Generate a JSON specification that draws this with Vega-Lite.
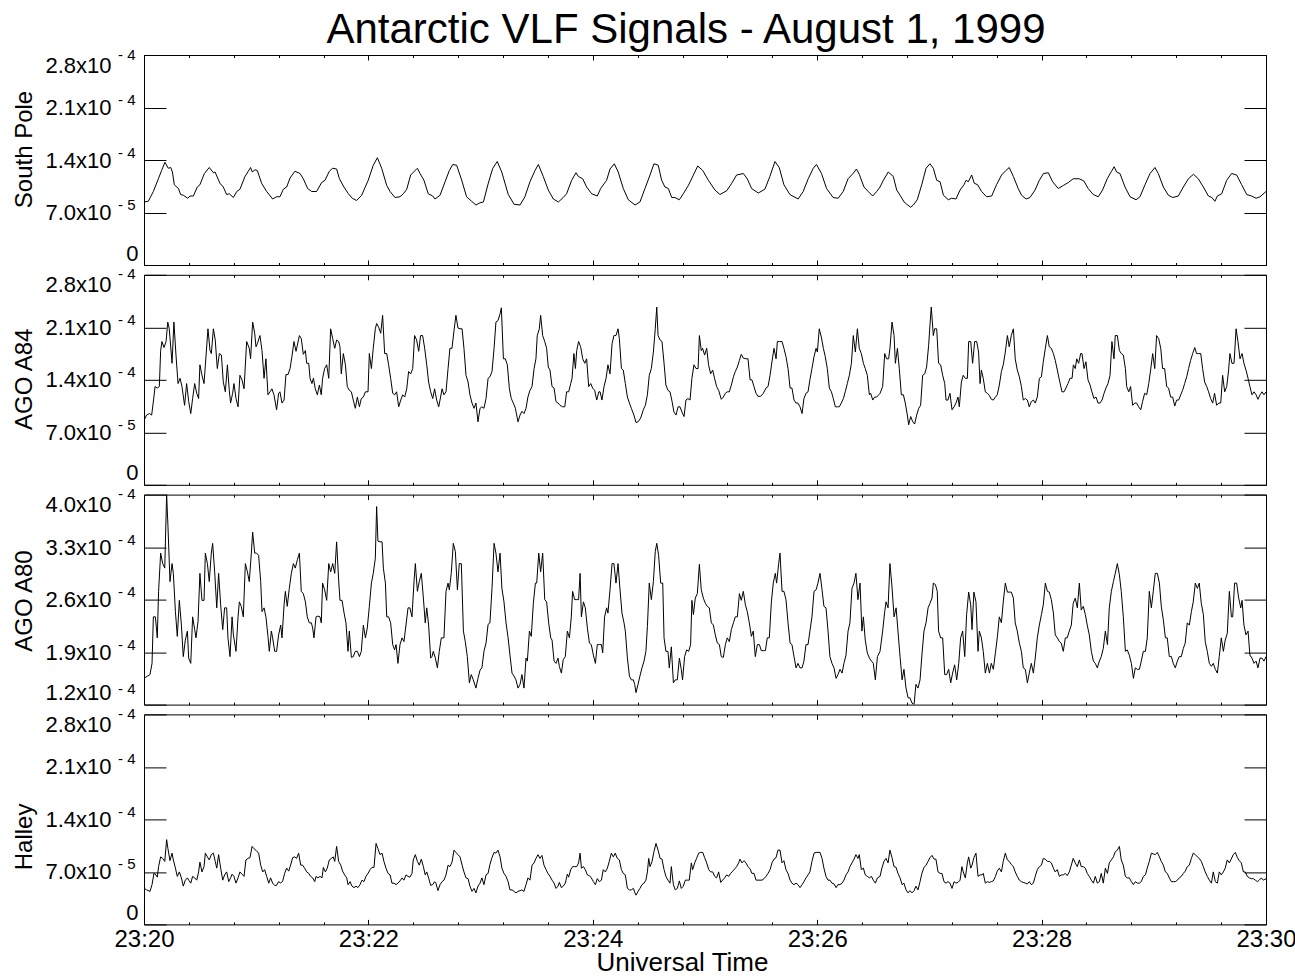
{
"$schema": "https://vega.github.io/schema/vega-lite/v6.json",
"background": "white",
"padding": {"left": 11, "top": 8, "right": 5, "bottom": 0},
"title": {"text": "Antarctic VLF Signals - August 1, 1999", "fontSize": 42, "font": "Liberation Sans", "fontWeight": "normal", "color": "black", "anchor": "middle", "frame": "group", "baseline": "alphabetic", "offset": -38, "dx": -19},
"bounds": "flush",
"spacing": 9.8,
"config": {
  "view": {"stroke": "black", "strokeWidth": 1},
  "axis": {"grid": false, "domain": false, "tickColor": "black", "tickWidth": 1, "labelColor": "black", "labelFont": "Liberation Sans", "titleFont": "Liberation Sans", "titleColor": "black", "titleFontWeight": "normal"}
},
"datasets": {
"sp": [
{"t":0,"v":8.4},{"t":2.3,"v":8.5},{"t":5.0,"v":9.8},{"t":7.7,"v":11.5},{"t":9.4,"v":12.6},{"t":11.2,"v":13.7},{"t":13.0,"v":12.9},{"t":14.3,"v":13.0},{"t":15.2,"v":12.4},{"t":16.2,"v":10.7},{"t":18.4,"v":10.2},{"t":19.6,"v":9.4},{"t":21.0,"v":9.3},{"t":23.4,"v":8.9},{"t":24.6,"v":9.2},{"t":26.4,"v":9.2},{"t":28.5,"v":10.4},{"t":29.9,"v":10.7},{"t":32.3,"v":12.2},{"t":34.9,"v":13.0},{"t":37.1,"v":12.3},{"t":38.0,"v":12.4},{"t":40.6,"v":10.9},{"t":42.4,"v":10.4},{"t":44.2,"v":9.4},{"t":45.6,"v":9.5},{"t":47.8,"v":9.0},{"t":49.6,"v":9.8},{"t":51.3,"v":10.1},{"t":54.0,"v":11.8},{"t":57.0,"v":13.0},{"t":57.9,"v":12.4},{"t":59.4,"v":12.7},{"t":60.6,"v":12.6},{"t":62.9,"v":10.9},{"t":65.6,"v":9.8},{"t":68.8,"v":8.8},{"t":70.9,"v":9.1},{"t":72.7,"v":9.1},{"t":74.5,"v":10.1},{"t":76.3,"v":10.4},{"t":78.1,"v":11.6},{"t":80.7,"v":12.5},{"t":83.4,"v":12.2},{"t":85.2,"v":11.5},{"t":87.5,"v":10.2},{"t":89.7,"v":9.8},{"t":92.3,"v":9.8},{"t":95.0,"v":11.0},{"t":96.8,"v":11.3},{"t":99.1,"v":12.5},{"t":100.9,"v":12.9},{"t":103.0,"v":12.8},{"t":104.5,"v":11.5},{"t":106.9,"v":10.4},{"t":109.3,"v":9.5},{"t":111.4,"v":8.9},{"t":113.7,"v":8.6},{"t":116.4,"v":9.3},{"t":119.9,"v":11.3},{"t":122.6,"v":13.3},{"t":124.8,"v":14.3},{"t":127.1,"v":12.9},{"t":129.8,"v":10.6},{"t":131.6,"v":9.8},{"t":134.2,"v":9.0},{"t":136.9,"v":9.1},{"t":138.7,"v":9.5},{"t":140.5,"v":10.1},{"t":142.6,"v":12.0},{"t":146.2,"v":12.9},{"t":147.6,"v":12.2},{"t":149.7,"v":11.3},{"t":152.0,"v":9.5},{"t":154.4,"v":9.2},{"t":155.6,"v":8.8},{"t":158.3,"v":9.3},{"t":161.0,"v":11.1},{"t":163.3,"v":12.6},{"t":165.1,"v":13.4},{"t":167.2,"v":13.3},{"t":169.9,"v":11.3},{"t":172.5,"v":9.1},{"t":175.2,"v":8.5},{"t":177.5,"v":8.0},{"t":179.7,"v":8.3},{"t":181.5,"v":8.4},{"t":184.1,"v":10.9},{"t":186.5,"v":12.9},{"t":188.9,"v":13.8},{"t":191.3,"v":12.4},{"t":194.8,"v":9.4},{"t":197.9,"v":8.1},{"t":201.1,"v":8.0},
{"t":203.7,"v":9.1},{"t":206.4,"v":11.1},{"t":209.1,"v":12.6},{"t":210.9,"v":13.4},{"t":213.5,"v":11.8},{"t":216.2,"v":10.0},{"t":218.9,"v":8.8},{"t":221.6,"v":8.4},{"t":224.2,"v":9.0},{"t":226.0,"v":9.5},{"t":228.7,"v":11.3},{"t":231.0,"v":12.3},{"t":232.3,"v":11.8},{"t":234.6,"v":11.5},{"t":236.7,"v":10.4},{"t":239.4,"v":9.5},{"t":242.4,"v":9.2},{"t":244.2,"v":10.2},{"t":247.4,"v":11.3},{"t":249.2,"v":12.8},{"t":251.5,"v":13.5},{"t":253.6,"v":12.4},{"t":256.3,"v":10.2},{"t":259.0,"v":8.7},{"t":262.6,"v":8.0},{"t":265.2,"v":8.4},{"t":267.9,"v":10.2},{"t":270.6,"v":12.0},{"t":272.7,"v":13.5},{"t":275.0,"v":13.3},{"t":276.8,"v":11.3},{"t":278.6,"v":10.4},{"t":280.4,"v":10.2},{"t":282.2,"v":9.0},{"t":283.9,"v":9.0},{"t":286.3,"v":8.7},{"t":288.4,"v":9.5},{"t":291.1,"v":10.6},{"t":293.8,"v":12.0},{"t":296.1,"v":13.2},{"t":298.8,"v":12.6},{"t":301.8,"v":11.3},{"t":305.3,"v":10.0},{"t":308.0,"v":9.4},{"t":311.6,"v":9.9},{"t":314.3,"v":10.9},{"t":316.9,"v":12.0},{"t":320.5,"v":12.2},{"t":322.6,"v":11.5},{"t":324.9,"v":10.2},{"t":328.5,"v":9.6},{"t":332.0,"v":10.1},{"t":334.7,"v":11.8},{"t":337.4,"v":13.8},{"t":339.7,"v":13.0},{"t":342.2,"v":10.7},{"t":345.4,"v":9.4},{"t":349.8,"v":8.8},{"t":352.5,"v":9.8},{"t":355.2,"v":11.5},{"t":357.9,"v":12.9},{"t":359.6,"v":13.4},{"t":362.3,"v":12.2},{"t":365.0,"v":10.2},{"t":368.5,"v":9.0},{"t":371.2,"v":8.9},{"t":373.9,"v":9.8},{"t":376.5,"v":11.5},{"t":379.2,"v":12.2},{"t":381.0,"v":12.8},{"t":382.5,"v":12.1},{"t":385.0,"v":10.4},{"t":387.3,"v":9.8},{"t":389.7,"v":9.2},{"t":391.8,"v":9.8},
{"t":393.6,"v":10.4},{"t":395.4,"v":11.3},{"t":398.0,"v":12.4},{"t":400.7,"v":11.8},{"t":402.5,"v":10.0},{"t":404.3,"v":9.3},{"t":406.5,"v":8.4},{"t":407.9,"v":8.1},{"t":410.0,"v":7.7},{"t":411.4,"v":8.0},{"t":413.5,"v":8.7},{"t":415.9,"v":10.7},{"t":418.2,"v":12.9},{"t":420.3,"v":13.5},{"t":422.1,"v":12.9},{"t":423.9,"v":11.3},{"t":425.7,"v":11.1},{"t":427.5,"v":9.3},{"t":430.1,"v":8.7},{"t":431.9,"v":8.9},{"t":434.2,"v":8.8},{"t":436.4,"v":10.0},{"t":438.5,"v":10.7},{"t":439.6,"v":11.3},{"t":440.8,"v":11.1},{"t":442.6,"v":12.0},{"t":444.0,"v":10.9},{"t":445.8,"v":10.7},{"t":447.9,"v":9.8},{"t":450.6,"v":9.1},{"t":453.3,"v":9.2},{"t":455.9,"v":10.7},{"t":458.6,"v":12.0},{"t":460.9,"v":12.6},{"t":462.7,"v":13.0},{"t":464.9,"v":11.8},{"t":467.5,"v":10.2},{"t":469.3,"v":9.3},{"t":471.7,"v":8.8},{"t":473.8,"v":9.0},{"t":476.5,"v":10.0},{"t":478.8,"v":11.3},{"t":481.0,"v":12.2},{"t":483.6,"v":12.3},{"t":485.9,"v":11.1},{"t":488.9,"v":10.2},{"t":491.6,"v":10.6},{"t":494.3,"v":11.0},{"t":496.9,"v":11.5},{"t":500.1,"v":11.5},{"t":502.6,"v":11.2},{"t":504.9,"v":10.2},{"t":507.6,"v":9.4},{"t":510.3,"v":9.1},{"t":512.6,"v":10.0},{"t":515.1,"v":11.5},{"t":517.4,"v":12.5},{"t":518.8,"v":13.1},{"t":520.1,"v":12.4},{"t":521.9,"v":12.2},{"t":524.6,"v":10.4},{"t":527.3,"v":9.1},{"t":530.5,"v":8.7},{"t":532.6,"v":9.1},{"t":535.3,"v":10.7},{"t":538.0,"v":12.2},{"t":540.6,"v":13.0},{"t":542.4,"v":12.2},{"t":545.1,"v":10.4},{"t":547.8,"v":9.3},{"t":550.1,"v":9.0},{"t":553.1,"v":9.2},{"t":555.8,"v":10.4},{"t":558.5,"v":11.5},{"t":561.2,"v":12.1},{"t":563.8,"v":11.5},{"t":566.5,"v":10.4},{"t":569.2,"v":9.2},{"t":571.0,"v":9.0},{"t":572.7,"v":8.5},{"t":574.0,"v":9.2},{"t":576.3,"v":9.5},{"t":579.0,"v":11.3},{"t":581.6,"v":12.2},{"t":584.3,"v":12.0},{"t":587.0,"v":10.7},{"t":589.7,"v":9.4},{"t":592.3,"v":9.2},{"t":594.7,"v":8.9},{"t":596.8,"v":9.1},{"t":600,"v":9.8}
],
"a84": [
{"t":0,"v":8.6},{"t":1.4,"v":9.3},{"t":2.9,"v":9.5},{"t":4.1,"v":9.3},{"t":5.3,"v":11.7},{"t":5.9,"v":13.1},{"t":7.1,"v":12.9},{"t":8.2,"v":13.1},{"t":8.9,"v":17.9},{"t":9.6,"v":19.1},{"t":10.7,"v":18.3},{"t":11.8,"v":19.1},{"t":12.7,"v":21.7},{"t":13.5,"v":20.8},{"t":15.0,"v":16.2},{"t":16.0,"v":21.7},{"t":17.1,"v":17.3},{"t":18.2,"v":13.5},{"t":19.3,"v":14.2},{"t":20.3,"v":13.1},{"t":21.7,"v":10.6},{"t":22.8,"v":13.5},{"t":23.9,"v":11.1},{"t":25.0,"v":9.5},{"t":26.0,"v":11.5},{"t":27.1,"v":13.5},{"t":28.2,"v":12.2},{"t":29.2,"v":11.5},{"t":29.9,"v":16.0},{"t":31.0,"v":14.6},{"t":32.1,"v":13.5},{"t":33.2,"v":17.3},{"t":34.2,"v":20.8},{"t":35.3,"v":17.9},{"t":36.0,"v":17.5},{"t":37.1,"v":20.8},{"t":38.1,"v":19.3},{"t":39.2,"v":15.5},{"t":40.3,"v":17.5},{"t":41.4,"v":17.3},{"t":42.4,"v":13.7},{"t":43.5,"v":12.4},{"t":44.6,"v":16.0},{"t":45.6,"v":12.6},{"t":46.3,"v":10.9},{"t":47.4,"v":12.2},{"t":48.1,"v":13.5},{"t":49.2,"v":11.5},{"t":50.3,"v":10.4},{"t":51.3,"v":14.6},{"t":52.4,"v":14.0},{"t":53.5,"v":12.8},{"t":54.9,"v":19.1},{"t":56.3,"v":18.2},{"t":57.0,"v":16.8},{"t":58.1,"v":21.7},{"t":59.2,"v":20.2},{"t":59.9,"v":18.4},{"t":60.6,"v":18.8},{"t":62.0,"v":19.9},{"t":63.1,"v":17.9},{"t":64.2,"v":14.2},{"t":65.2,"v":16.8},{"t":66.3,"v":12.0},{"t":67.4,"v":12.4},{"t":68.4,"v":12.8},{"t":69.5,"v":12.0},{"t":70.9,"v":10.0},{"t":72.0,"v":12.2},{"t":72.7,"v":12.4},{"t":73.8,"v":10.9},{"t":74.9,"v":11.3},{"t":75.9,"v":14.7},{"t":77.0,"v":14.7},{"t":78.1,"v":15.5},{"t":79.1,"v":17.1},{"t":80.2,"v":19.1},{"t":81.3,"v":17.8},{"t":82.0,"v":18.6},{"t":83.1,"v":19.9},{"t":84.1,"v":19.5},{"t":85.2,"v":17.4},{"t":86.3,"v":17.9},{"t":87.0,"v":16.2},{"t":88.1,"v":16.2},{"t":88.8,"v":14.2},{"t":89.8,"v":13.5},{"t":90.6,"v":14.2},{"t":91.6,"v":12.8},{"t":92.7,"v":12.0},{"t":93.8,"v":13.3},{"t":94.8,"v":12.0},{"t":95.5,"v":14.2},{"t":96.6,"v":15.5},{"t":97.7,"v":16.0},{"t":98.8,"v":14.2},{"t":99.8,"v":20.8},{"t":100.9,"v":19.5},{"t":102.0,"v":18.2},{"t":103.0,"v":19.3},{"t":104.1,"v":19.1},{"t":104.8,"v":18.4},{"t":105.5,"v":14.8},{"t":106.6,"v":17.5},{"t":107.7,"v":16.0},{"t":108.7,"v":13.1},{"t":109.8,"v":12.6},{"t":110.9,"v":12.4},{"t":111.9,"v":11.3},{"t":113.0,"v":10.2},{"t":114.1,"v":11.7},{"t":115.2,"v":10.4},{"t":116.2,"v":11.5},{"t":117.3,"v":11.7},{"t":118.4,"v":12.4},{"t":119.8,"v":12.4},{"t":120.5,"v":17.5},{"t":121.6,"v":15.5},{"t":122.6,"v":18.2},{"t":123.7,"v":20.8},{"t":124.4,"v":21.5},{"t":125.5,"v":21.0},{"t":126.6,"v":20.2},{"t":127.6,"v":22.6},{"t":128.7,"v":17.5},{"t":129.8,"v":17.5},{"t":130.8,"v":16.0},{"t":131.9,"v":14.2},{"t":133.0,"v":12.2},{"t":134.0,"v":12.0},{"t":135.1,"v":12.4},{"t":136.2,"v":10.4},{"t":137.3,"v":11.3},{"t":138.3,"v":12.0},{"t":139.4,"v":11.7},{"t":140.5,"v":12.8},{"t":141.5,"v":15.1},{"t":142.6,"v":14.8},{"t":143.7,"v":15.5},{"t":144.7,"v":19.9},{"t":145.8,"v":19.3},{"t":146.9,"v":17.8},{"t":147.9,"v":19.9},{"t":149.0,"v":19.9},{"t":150.1,"v":18.2},{"t":151.2,"v":16.0},{"t":152.2,"v":13.7},{"t":153.3,"v":12.4},{"t":154.4,"v":11.5},{"t":155.4,"v":12.8},{"t":156.5,"v":11.3},{"t":157.6,"v":10.4},{"t":158.6,"v":11.7},{"t":159.4,"v":12.8},{"t":160.4,"v":12.0},{"t":161.5,"v":12.4},{"t":162.6,"v":15.5},{"t":163.6,"v":18.2},{"t":164.7,"v":18.2},{"t":165.8,"v":20.6},{"t":166.8,"v":22.6},{"t":167.9,"v":20.9},{"t":169.0,"v":20.8},{"t":170.1,"v":20.8},{"t":171.1,"v":18.2},{"t":172.2,"v":14.6},{"t":173.3,"v":13.7},{"t":174.3,"v":12.0},{"t":175.4,"v":10.9},{"t":176.5,"v":10.2},{"t":177.5,"v":10.9},{"t":178.6,"v":8.4},{"t":179.7,"v":10.2},{"t":180.7,"v":10.4},{"t":181.8,"v":10.2},{"t":182.9,"v":11.5},{"t":184.0,"v":14.2},{"t":185.0,"v":14.4},{"t":186.1,"v":15.1},{"t":187.2,"v":18.2},{"t":188.2,"v":21.7},{"t":189.3,"v":21.9},{"t":190.4,"v":22.8},{"t":191.1,"v":23.6},{"t":192.2,"v":16.8},{"t":193.2,"v":16.8},{"t":194.3,"v":16.0},{"t":195.4,"v":12.8},{"t":196.4,"v":11.5},{"t":197.5,"v":10.9},{"t":198.6,"v":10.2},{"t":200.0,"v":8.4},{"t":201.1,"v":9.3},
{"t":202.1,"v":9.8},{"t":203.2,"v":9.5},{"t":204.3,"v":10.2},{"t":205.3,"v":11.7},{"t":206.4,"v":12.6},{"t":207.5,"v":13.1},{"t":208.6,"v":15.5},{"t":209.6,"v":16.8},{"t":210.3,"v":19.9},{"t":211.4,"v":20.8},{"t":212.1,"v":22.6},{"t":213.2,"v":19.9},{"t":214.3,"v":19.1},{"t":215.3,"v":18.2},{"t":216.2,"v":15.7},{"t":217.1,"v":15.3},{"t":218.2,"v":13.1},{"t":219.3,"v":12.9},{"t":220.3,"v":11.1},{"t":221.4,"v":10.9},{"t":222.5,"v":10.6},{"t":223.9,"v":10.4},{"t":225.0,"v":10.4},{"t":226.0,"v":12.4},{"t":227.1,"v":12.4},{"t":228.2,"v":13.5},{"t":228.9,"v":14.2},{"t":229.9,"v":17.5},{"t":230.7,"v":15.5},{"t":231.4,"v":17.9},{"t":232.4,"v":19.1},{"t":233.5,"v":18.4},{"t":234.6,"v":16.8},{"t":235.7,"v":16.2},{"t":236.7,"v":16.8},{"t":237.8,"v":13.1},{"t":238.9,"v":13.5},{"t":239.9,"v":12.9},{"t":241.0,"v":12.6},{"t":242.1,"v":11.3},{"t":243.2,"v":12.4},{"t":243.9,"v":12.4},{"t":244.9,"v":11.3},{"t":246.0,"v":13.1},{"t":247.1,"v":14.2},{"t":248.1,"v":16.0},{"t":249.2,"v":14.8},{"t":250.3,"v":18.8},{"t":251.3,"v":19.9},{"t":252.4,"v":19.9},{"t":253.5,"v":20.8},{"t":254.2,"v":19.5},{"t":255.3,"v":15.5},{"t":256.3,"v":15.3},{"t":257.4,"v":13.5},{"t":258.5,"v":11.7},{"t":259.6,"v":10.9},{"t":260.6,"v":10.2},{"t":262.0,"v":9.3},{"t":263.1,"v":8.3},{"t":264.2,"v":8.4},{"t":265.6,"v":8.9},{"t":267.0,"v":10.0},{"t":268.1,"v":10.6},{"t":269.2,"v":12.0},{"t":270.2,"v":14.6},{"t":271.3,"v":15.5},{"t":272.4,"v":17.7},{"t":273.4,"v":20.8},{"t":274.2,"v":23.7},{"t":274.9,"v":19.9},{"t":276.0,"v":19.3},{"t":277.0,"v":19.1},{"t":278.1,"v":16.2},{"t":279.1,"v":13.3},{"t":280.2,"v":12.6},{"t":281.3,"v":12.4},{"t":282.4,"v":11.1},{"t":283.4,"v":9.7},{"t":284.5,"v":9.3},{"t":285.6,"v":10.4},{"t":286.6,"v":10.4},{"t":287.7,"v":9.7},{"t":288.8,"v":9.1},{"t":289.8,"v":11.3},{"t":290.9,"v":11.5},{"t":292.0,"v":11.3},{"t":293.0,"v":14.2},{"t":294.1,"v":16.0},{"t":295.2,"v":15.5},{"t":296.3,"v":15.5},{"t":297.0,"v":19.9},{"t":298.0,"v":17.9},{"t":298.7,"v":18.2},{"t":299.8,"v":17.3},{"t":300.9,"v":18.2},{"t":301.9,"v":16.0},{"t":303.0,"v":14.8},{"t":304.1,"v":15.3},{"t":305.1,"v":14.2},{"t":306.2,"v":13.1},{"t":307.3,"v":12.6},{"t":308.7,"v":11.4},{"t":309.8,"v":11.7},{"t":310.9,"v":12.2},{"t":311.9,"v":12.4},{"t":313.0,"v":12.4},{"t":314.1,"v":13.3},{"t":315.2,"v":14.4},{"t":316.2,"v":15.1},{"t":317.3,"v":15.7},{"t":318.4,"v":16.6},{"t":319.4,"v":17.4},{"t":320.5,"v":16.9},{"t":321.9,"v":16.8},{"t":323.0,"v":16.8},{"t":324.1,"v":14.0},{"t":325.1,"v":14.0},{"t":326.2,"v":13.1},{"t":327.3,"v":12.2},{"t":328.3,"v":11.8},{"t":329.8,"v":11.8},{"t":331.2,"v":12.2},{"t":332.6,"v":12.9},{"t":333.7,"v":13.1},{"t":334.8,"v":14.6},{"t":335.8,"v":16.4},{"t":336.9,"v":18.2},{"t":338.0,"v":16.8},{"t":338.7,"v":19.1},{"t":339.8,"v":19.1},{"t":341.2,"v":19.1},{"t":342.2,"v":18.2},{"t":343.3,"v":17.1},{"t":344.4,"v":15.5},{"t":345.5,"v":12.9},{"t":346.5,"v":12.9},{"t":347.6,"v":11.3},{"t":348.7,"v":10.9},{"t":349.7,"v":10.9},{"t":350.8,"v":10.4},{"t":351.9,"v":9.5},{"t":352.9,"v":11.5},{"t":354.0,"v":12.2},{"t":355.1,"v":12.4},{"t":356.1,"v":14.0},{"t":357.2,"v":15.5},{"t":358.3,"v":17.1},{"t":359.4,"v":18.2},{"t":360.1,"v":17.7},{"t":361.1,"v":20.8},{"t":362.2,"v":19.7},{"t":363.3,"v":18.2},{"t":364.3,"v":17.1},{"t":365.4,"v":15.5},{"t":366.5,"v":12.9},{"t":367.6,"v":12.4},{"t":368.6,"v":11.5},{"t":369.7,"v":10.4},{"t":370.8,"v":10.4},{"t":371.8,"v":10.4},{"t":372.9,"v":10.9},{"t":374.0,"v":11.5},{"t":375.0,"v":12.4},{"t":376.1,"v":13.5},{"t":377.2,"v":14.6},{"t":378.3,"v":16.2},{"t":379.3,"v":19.9},{"t":380.4,"v":17.7},{"t":381.5,"v":20.8},{"t":382.5,"v":18.2},{"t":383.6,"v":17.5},{"t":384.7,"v":16.2},{"t":385.7,"v":15.5},{"t":386.8,"v":14.6},{"t":387.9,"v":12.0},{"t":388.6,"v":12.2},{"t":389.7,"v":11.3},{"t":390.7,"v":11.7},{"t":391.8,"v":11.7},{"t":392.9,"v":12.0},
{"t":393.6,"v":12.2},{"t":395.0,"v":13.1},{"t":396.1,"v":17.5},{"t":397.1,"v":16.8},{"t":398.2,"v":16.8},{"t":398.9,"v":18.2},{"t":400.0,"v":21.7},{"t":401.1,"v":19.9},{"t":401.8,"v":16.2},{"t":402.9,"v":18.2},{"t":403.9,"v":15.5},{"t":405.0,"v":12.0},{"t":406.1,"v":12.0},{"t":407.1,"v":10.9},{"t":408.2,"v":9.3},{"t":408.9,"v":8.0},{"t":410.0,"v":9.1},{"t":411.1,"v":8.4},{"t":412.1,"v":8.1},{"t":413.2,"v":9.3},{"t":414.3,"v":10.2},{"t":415.3,"v":10.6},{"t":416.4,"v":14.6},{"t":417.5,"v":14.8},{"t":418.5,"v":15.7},{"t":419.6,"v":18.6},{"t":420.3,"v":21.3},{"t":421.0,"v":23.7},{"t":422.1,"v":19.9},{"t":422.8,"v":20.8},{"t":423.9,"v":20.8},{"t":424.9,"v":16.2},{"t":426.0,"v":16.0},{"t":427.1,"v":14.6},{"t":428.2,"v":13.5},{"t":428.9,"v":11.3},{"t":429.9,"v":11.3},{"t":431.0,"v":12.2},{"t":432.1,"v":10.0},{"t":433.2,"v":10.4},{"t":434.2,"v":10.9},{"t":435.3,"v":11.7},{"t":436.0,"v":10.4},{"t":437.1,"v":13.7},{"t":438.1,"v":14.6},{"t":439.2,"v":14.2},{"t":440.3,"v":14.2},{"t":441.0,"v":19.1},{"t":442.1,"v":19.1},{"t":443.1,"v":16.2},{"t":444.2,"v":19.1},{"t":445.3,"v":19.1},{"t":446.3,"v":17.7},{"t":447.1,"v":13.5},{"t":447.8,"v":15.3},{"t":448.8,"v":14.2},{"t":449.9,"v":12.4},{"t":451.0,"v":12.2},{"t":452.1,"v":11.9},{"t":453.1,"v":11.4},{"t":454.2,"v":11.3},{"t":455.3,"v":11.7},{"t":456.3,"v":12.0},{"t":457.4,"v":13.3},{"t":458.5,"v":15.1},{"t":459.5,"v":16.0},{"t":460.6,"v":17.7},{"t":461.7,"v":19.9},{"t":462.7,"v":18.4},{"t":463.8,"v":19.9},{"t":464.9,"v":20.8},{"t":465.9,"v":16.8},{"t":467.0,"v":15.3},{"t":468.1,"v":14.4},{"t":469.2,"v":13.1},{"t":470.2,"v":11.3},{"t":471.3,"v":11.5},{"t":472.4,"v":11.3},{"t":473.4,"v":10.4},{"t":474.5,"v":11.1},{"t":475.6,"v":11.3},{"t":476.6,"v":10.9},{"t":477.7,"v":11.7},{"t":478.8,"v":14.2},{"t":479.9,"v":14.4},{"t":480.9,"v":16.4},{"t":482.0,"v":18.2},{"t":483.1,"v":19.9},{"t":484.1,"v":18.4},{"t":485.2,"v":18.2},{"t":486.3,"v":17.5},{"t":487.3,"v":16.6},{"t":488.4,"v":15.3},{"t":489.5,"v":14.0},{"t":490.9,"v":12.4},{"t":492.0,"v":12.4},{"t":493.0,"v":12.9},{"t":494.1,"v":13.5},{"t":495.2,"v":14.2},{"t":496.3,"v":14.2},{"t":497.0,"v":16.0},{"t":498.0,"v":15.5},{"t":498.8,"v":16.8},{"t":499.8,"v":16.2},{"t":500.9,"v":17.5},{"t":501.6,"v":17.5},{"t":502.7,"v":15.5},{"t":503.7,"v":16.4},{"t":504.8,"v":14.0},{"t":505.9,"v":13.3},{"t":506.9,"v":12.4},{"t":508.0,"v":11.5},{"t":509.1,"v":11.7},{"t":510.2,"v":10.9},{"t":511.2,"v":10.9},{"t":512.3,"v":11.3},{"t":513.4,"v":12.2},{"t":514.4,"v":12.9},{"t":515.5,"v":13.5},{"t":516.6,"v":14.6},{"t":517.6,"v":19.1},{"t":518.7,"v":16.8},{"t":519.4,"v":19.9},{"t":520.5,"v":19.9},{"t":521.6,"v":17.9},{"t":522.6,"v":17.5},{"t":523.7,"v":17.3},{"t":524.8,"v":15.5},{"t":525.5,"v":13.1},{"t":526.6,"v":12.4},{"t":527.6,"v":13.1},{"t":528.7,"v":10.6},{"t":529.8,"v":10.9},{"t":530.8,"v":10.9},{"t":531.9,"v":10.4},{"t":533.0,"v":10.0},{"t":534.0,"v":11.1},{"t":535.1,"v":12.2},{"t":536.2,"v":12.0},{"t":537.3,"v":13.5},{"t":538.3,"v":15.3},{"t":539.4,"v":17.5},{"t":540.5,"v":15.5},{"t":541.5,"v":19.9},{"t":542.6,"v":19.5},{"t":543.7,"v":18.2},{"t":544.7,"v":15.5},{"t":545.8,"v":15.5},{"t":546.9,"v":13.1},{"t":547.9,"v":12.9},{"t":549.0,"v":11.7},{"t":550.1,"v":11.7},{"t":551.2,"v":10.5},{"t":552.2,"v":11.3},{"t":553.3,"v":11.3},{"t":554.4,"v":12.0},{"t":555.4,"v":12.6},{"t":556.5,"v":13.5},{"t":557.6,"v":14.4},{"t":558.6,"v":15.5},{"t":559.7,"v":16.6},{"t":560.8,"v":17.5},{"t":561.9,"v":18.3},{"t":562.9,"v":17.5},{"t":564.0,"v":17.5},{"t":565.1,"v":17.5},{"t":566.1,"v":15.5},{"t":567.2,"v":13.7},{"t":568.3,"v":13.1},{"t":569.3,"v":12.4},{"t":570.4,"v":11.5},{"t":571.5,"v":10.9},{"t":572.5,"v":12.2},{"t":573.6,"v":10.6},{"t":574.7,"v":10.9},{"t":575.8,"v":10.9},{"t":576.8,"v":14.6},{"t":577.9,"v":12.4},{"t":579.0,"v":13.1},{"t":580.0,"v":15.3},{"t":580.7,"v":17.5},{"t":581.8,"v":16.2},{"t":582.9,"v":16.2},{"t":584.0,"v":20.8},{"t":585.0,"v":19.1},{"t":586.1,"v":16.8},{"t":587.2,"v":17.5},{"t":588.2,"v":16.2},{"t":589.3,"v":15.3},{"t":590.4,"v":14.2},{"t":591.4,"v":13.1},{"t":592.5,"v":12.0},{"t":593.6,"v":12.4},{"t":594.7,"v":12.0},{"t":595.7,"v":11.4},{"t":596.8,"v":12.0},{"t":597.9,"v":12.4},{"t":598.9,"v":12.0},{"t":600,"v":12.4}
],
"a80": [
{"t":0,"v":15.5},{"t":1.8,"v":15.8},{"t":3.2,"v":16.0},{"t":4.3,"v":17.5},{"t":5.0,"v":23.7},{"t":6.1,"v":23.7},{"t":7.1,"v":20.9},{"t":7.8,"v":27.1},{"t":8.9,"v":32.2},{"t":10.0,"v":30.8},{"t":11.1,"v":30.2},{"t":12.1,"v":40.0},{"t":12.8,"v":35.9},{"t":13.9,"v":28.4},{"t":15.0,"v":30.8},{"t":15.7,"v":29.5},{"t":16.8,"v":24.4},{"t":17.8,"v":21.1},{"t":18.9,"v":25.9},{"t":20.0,"v":22.6},{"t":21.0,"v":18.4},{"t":22.1,"v":20.6},{"t":23.2,"v":21.8},{"t":23.9,"v":18.2},{"t":25.0,"v":17.5},{"t":26.0,"v":23.7},{"t":27.1,"v":22.0},{"t":27.8,"v":20.9},{"t":28.9,"v":23.1},{"t":29.9,"v":29.5},{"t":31.0,"v":25.9},{"t":32.1,"v":25.9},{"t":32.8,"v":32.2},{"t":33.9,"v":30.8},{"t":34.9,"v":28.4},{"t":36.0,"v":32.2},{"t":36.7,"v":33.5},{"t":37.8,"v":29.7},{"t":38.9,"v":24.9},{"t":39.9,"v":29.5},{"t":41.0,"v":25.3},{"t":42.1,"v":22.0},{"t":43.1,"v":24.9},{"t":44.2,"v":24.9},{"t":44.9,"v":20.9},{"t":46.0,"v":18.4},{"t":47.1,"v":23.7},{"t":47.8,"v":21.3},{"t":49.2,"v":19.1},{"t":50.3,"v":23.7},{"t":51.0,"v":25.7},{"t":52.0,"v":25.1},{"t":53.1,"v":23.7},{"t":54.2,"v":30.8},{"t":55.3,"v":29.7},{"t":56.3,"v":28.4},{"t":57.4,"v":32.2},{"t":58.1,"v":35.0},{"t":59.2,"v":32.2},{"t":60.2,"v":32.2},{"t":61.3,"v":31.9},{"t":62.4,"v":28.4},{"t":63.1,"v":24.4},{"t":64.2,"v":24.9},{"t":65.2,"v":23.7},{"t":66.3,"v":21.1},{"t":67.0,"v":19.1},{"t":68.1,"v":21.8},{"t":68.8,"v":20.9},{"t":69.9,"v":19.1},{"t":70.9,"v":19.1},{"t":72.0,"v":21.3},{"t":73.1,"v":22.6},{"t":73.8,"v":20.9},{"t":74.9,"v":25.3},{"t":75.6,"v":27.1},{"t":76.6,"v":25.1},{"t":77.7,"v":27.5},{"t":78.8,"v":29.5},{"t":79.9,"v":30.8},{"t":80.9,"v":30.2},{"t":82.0,"v":31.3},{"t":83.1,"v":32.2},{"t":84.1,"v":27.1},{"t":85.2,"v":26.8},{"t":86.3,"v":25.7},{"t":87.3,"v":23.7},{"t":88.4,"v":22.9},{"t":89.5,"v":22.9},{"t":90.2,"v":22.2},{"t":90.9,"v":20.9},{"t":92.0,"v":23.7},{"t":93.0,"v":23.8},{"t":94.1,"v":23.7},{"t":94.8,"v":22.9},{"t":95.5,"v":28.2},{"t":96.6,"v":27.3},{"t":97.7,"v":25.9},{"t":98.8,"v":30.8},{"t":99.8,"v":29.7},{"t":100.9,"v":30.8},{"t":102.0,"v":29.5},{"t":103.0,"v":33.7},{"t":104.1,"v":28.6},{"t":104.8,"v":25.9},{"t":105.9,"v":25.9},{"t":107.0,"v":24.2},{"t":108.0,"v":22.9},{"t":109.1,"v":19.1},{"t":109.8,"v":21.8},{"t":110.9,"v":18.3},{"t":111.9,"v":18.4},{"t":113.0,"v":19.1},{"t":114.1,"v":19.1},{"t":115.2,"v":18.4},{"t":116.2,"v":19.1},{"t":117.3,"v":22.6},{"t":118.4,"v":20.9},{"t":119.4,"v":22.2},{"t":120.5,"v":25.1},{"t":121.6,"v":28.2},{"t":122.6,"v":29.5},{"t":123.7,"v":31.5},{"t":124.4,"v":38.4},{"t":125.1,"v":33.8},{"t":126.2,"v":33.7},{"t":127.3,"v":33.7},{"t":128.0,"v":30.2},{"t":129.1,"v":28.2},{"t":129.8,"v":23.7},{"t":130.8,"v":23.7},{"t":131.9,"v":22.9},{"t":133.0,"v":20.0},{"t":134.0,"v":19.3},{"t":134.8,"v":20.0},{"t":135.8,"v":17.5},{"t":136.9,"v":20.0},{"t":138.0,"v":20.9},{"t":139.0,"v":20.4},{"t":140.1,"v":22.6},{"t":141.2,"v":24.9},{"t":142.2,"v":24.9},{"t":143.3,"v":23.7},{"t":144.4,"v":28.4},{"t":145.1,"v":30.8},{"t":146.2,"v":27.1},{"t":147.2,"v":28.4},{"t":148.3,"v":29.5},{"t":149.4,"v":26.2},{"t":150.4,"v":22.9},{"t":151.2,"v":24.9},{"t":152.2,"v":22.6},{"t":153.3,"v":18.2},{"t":154.0,"v":18.4},{"t":154.7,"v":19.1},{"t":155.8,"v":18.2},{"t":156.9,"v":16.9},{"t":157.9,"v":19.1},{"t":159.0,"v":20.9},{"t":160.4,"v":20.9},{"t":161.5,"v":27.1},{"t":162.6,"v":28.2},{"t":163.3,"v":27.3},{"t":164.3,"v":29.5},{"t":165.4,"v":33.5},{"t":166.5,"v":32.4},{"t":167.6,"v":27.3},{"t":168.6,"v":30.8},{"t":169.7,"v":30.8},{"t":170.8,"v":21.8},{"t":171.8,"v":20.4},{"t":172.9,"v":18.4},{"t":174.0,"v":14.9},{"t":175.0,"v":16.0},{"t":176.1,"v":15.3},{"t":177.5,"v":14.2},{"t":178.6,"v":15.5},{"t":179.7,"v":16.6},{"t":180.7,"v":16.9},{"t":181.8,"v":19.1},{"t":182.9,"v":20.2},{"t":184.0,"v":22.7},{"t":185.0,"v":22.9},{"t":186.1,"v":27.5},{"t":187.2,"v":33.5},{"t":188.2,"v":32.2},{"t":189.3,"v":29.7},{"t":190.4,"v":32.2},{"t":191.4,"v":27.5},{"t":192.5,"v":25.7},{"t":193.6,"v":22.9},{"t":194.7,"v":20.9},{"t":195.7,"v":18.6},{"t":196.8,"v":16.2},{"t":197.9,"v":15.8},{"t":198.9,"v":15.3},{"t":200.0,"v":14.2},{"t":201.1,"v":14.7},
{"t":202.1,"v":16.0},{"t":203.2,"v":14.2},{"t":204.3,"v":18.2},{"t":205.0,"v":17.8},{"t":206.1,"v":21.8},{"t":207.1,"v":21.1},{"t":208.2,"v":25.5},{"t":209.3,"v":28.2},{"t":210.0,"v":28.2},{"t":211.1,"v":32.2},{"t":212.1,"v":29.7},{"t":213.2,"v":32.2},{"t":214.3,"v":26.0},{"t":215.3,"v":25.7},{"t":216.4,"v":22.9},{"t":217.5,"v":20.9},{"t":218.2,"v":20.6},{"t":219.3,"v":17.8},{"t":220.3,"v":17.5},{"t":221.4,"v":18.2},{"t":222.1,"v":17.1},{"t":223.2,"v":16.2},{"t":224.2,"v":18.0},{"t":225.3,"v":18.4},{"t":226.4,"v":21.8},{"t":227.5,"v":20.9},{"t":228.5,"v":23.7},{"t":229.2,"v":27.1},{"t":230.3,"v":26.0},{"t":231.4,"v":26.0},{"t":232.4,"v":26.0},{"t":233.2,"v":29.5},{"t":233.9,"v":23.7},{"t":235.0,"v":25.7},{"t":236.0,"v":24.9},{"t":237.1,"v":22.2},{"t":238.2,"v":20.2},{"t":239.2,"v":20.0},{"t":240.3,"v":18.6},{"t":241.4,"v":17.5},{"t":242.4,"v":20.0},{"t":243.5,"v":20.0},{"t":244.6,"v":20.0},{"t":245.3,"v":18.9},{"t":246.3,"v":23.7},{"t":247.4,"v":24.9},{"t":248.1,"v":24.2},{"t":249.2,"v":27.3},{"t":250.3,"v":30.8},{"t":251.3,"v":30.8},{"t":252.4,"v":28.2},{"t":253.5,"v":30.8},{"t":254.5,"v":27.5},{"t":255.6,"v":24.2},{"t":256.7,"v":22.9},{"t":257.4,"v":21.8},{"t":258.5,"v":18.2},{"t":259.6,"v":15.8},{"t":260.6,"v":15.3},{"t":261.7,"v":15.3},{"t":262.4,"v":14.7},{"t":263.1,"v":13.6},{"t":264.2,"v":14.7},{"t":265.2,"v":15.8},{"t":266.3,"v":16.9},{"t":267.4,"v":17.8},{"t":268.4,"v":19.1},{"t":269.2,"v":22.4},{"t":270.2,"v":28.2},{"t":271.3,"v":26.0},{"t":272.4,"v":28.4},{"t":273.4,"v":32.4},{"t":274.2,"v":33.5},{"t":275.2,"v":31.9},{"t":276.3,"v":28.2},{"t":277.4,"v":28.2},{"t":278.1,"v":20.9},{"t":279.1,"v":19.1},{"t":280.2,"v":19.1},{"t":280.9,"v":16.9},{"t":282.0,"v":19.7},{"t":283.1,"v":14.9},{"t":284.1,"v":15.3},{"t":285.2,"v":15.3},{"t":286.3,"v":18.2},{"t":287.3,"v":16.7},{"t":288.0,"v":15.3},{"t":289.1,"v":18.4},{"t":290.2,"v":19.3},{"t":291.3,"v":19.1},{"t":292.3,"v":20.0},{"t":293.0,"v":25.9},{"t":293.8,"v":24.0},{"t":294.8,"v":26.2},{"t":295.9,"v":26.8},{"t":297.0,"v":30.7},{"t":298.0,"v":27.3},{"t":299.1,"v":26.2},{"t":300.2,"v":25.5},{"t":301.2,"v":25.1},{"t":302.3,"v":24.9},{"t":303.4,"v":22.9},{"t":304.5,"v":22.6},{"t":305.5,"v":21.3},{"t":306.6,"v":20.2},{"t":307.7,"v":20.0},{"t":308.7,"v":18.4},{"t":309.8,"v":18.3},{"t":310.9,"v":20.0},{"t":311.9,"v":20.9},{"t":313.0,"v":20.4},{"t":314.1,"v":22.0},{"t":315.2,"v":22.9},{"t":316.2,"v":23.7},{"t":317.3,"v":23.7},{"t":318.4,"v":26.8},{"t":319.4,"v":25.9},{"t":320.5,"v":27.1},{"t":321.6,"v":25.3},{"t":322.6,"v":24.4},{"t":323.7,"v":22.9},{"t":324.8,"v":21.1},{"t":325.8,"v":21.8},{"t":326.9,"v":18.4},{"t":328.0,"v":20.0},{"t":329.1,"v":20.0},{"t":330.1,"v":19.2},{"t":331.2,"v":19.2},{"t":332.3,"v":19.2},{"t":333.3,"v":20.9},{"t":334.4,"v":20.9},{"t":335.5,"v":25.7},{"t":336.5,"v":28.2},{"t":337.6,"v":29.5},{"t":338.3,"v":28.2},{"t":339.4,"v":30.8},{"t":340.1,"v":32.2},{"t":341.2,"v":27.1},{"t":342.2,"v":27.1},{"t":343.3,"v":26.0},{"t":344.4,"v":22.9},{"t":345.5,"v":20.2},{"t":346.5,"v":20.0},{"t":347.6,"v":18.4},{"t":348.7,"v":16.9},{"t":349.7,"v":17.5},{"t":350.8,"v":16.9},{"t":351.9,"v":16.9},{"t":352.9,"v":17.8},{"t":354.0,"v":20.0},{"t":355.1,"v":20.0},{"t":356.1,"v":21.8},{"t":357.2,"v":23.7},{"t":358.3,"v":27.1},{"t":359.4,"v":27.3},{"t":360.4,"v":28.2},{"t":361.5,"v":29.5},{"t":362.6,"v":27.3},{"t":363.6,"v":25.1},{"t":364.7,"v":24.9},{"t":365.8,"v":21.8},{"t":366.8,"v":18.4},{"t":367.9,"v":17.5},{"t":369.0,"v":16.9},{"t":370.1,"v":15.5},{"t":371.1,"v":16.0},{"t":372.2,"v":16.7},{"t":373.3,"v":16.2},{"t":374.3,"v":17.5},{"t":375.4,"v":18.6},{"t":376.5,"v":21.8},{"t":377.5,"v":22.9},{"t":378.6,"v":27.5},{"t":379.7,"v":28.2},{"t":380.7,"v":29.5},{"t":381.8,"v":26.0},{"t":382.9,"v":28.2},{"t":383.9,"v":21.8},{"t":384.7,"v":23.7},{"t":385.7,"v":20.6},{"t":386.8,"v":18.9},{"t":387.9,"v":18.2},{"t":389.0,"v":17.8},{"t":390.0,"v":17.5},{"t":391.1,"v":15.3},{"t":392.2,"v":18.4},
{"t":393.6,"v":19.1},{"t":395.0,"v":21.8},{"t":396.1,"v":24.4},{"t":396.8,"v":25.7},{"t":397.9,"v":24.9},{"t":398.9,"v":30.8},{"t":400.0,"v":27.7},{"t":401.1,"v":23.7},{"t":402.2,"v":24.9},{"t":403.2,"v":21.8},{"t":404.3,"v":18.4},{"t":405.4,"v":15.3},{"t":406.4,"v":16.7},{"t":407.5,"v":14.2},{"t":408.6,"v":12.9},{"t":409.6,"v":12.9},{"t":410.7,"v":12.2},{"t":411.8,"v":12.0},{"t":412.8,"v":14.7},{"t":413.9,"v":14.2},{"t":415.0,"v":15.3},{"t":416.0,"v":18.6},{"t":417.1,"v":21.8},{"t":418.2,"v":22.9},{"t":419.3,"v":24.9},{"t":420.3,"v":25.5},{"t":421.4,"v":26.2},{"t":422.1,"v":28.2},{"t":423.2,"v":28.0},{"t":424.2,"v":27.1},{"t":424.9,"v":21.8},{"t":426.0,"v":20.9},{"t":427.1,"v":20.9},{"t":428.2,"v":16.0},{"t":429.2,"v":16.0},{"t":430.3,"v":16.7},{"t":431.4,"v":14.9},{"t":432.4,"v":16.2},{"t":433.5,"v":17.3},{"t":434.6,"v":15.3},{"t":435.7,"v":17.5},{"t":436.7,"v":20.9},{"t":437.8,"v":21.8},{"t":438.9,"v":18.4},{"t":439.9,"v":24.0},{"t":441.0,"v":27.0},{"t":442.1,"v":25.3},{"t":442.8,"v":22.0},{"t":443.8,"v":27.0},{"t":444.9,"v":25.7},{"t":446.0,"v":19.1},{"t":446.7,"v":21.8},{"t":447.8,"v":20.9},{"t":448.8,"v":19.1},{"t":449.9,"v":16.2},{"t":451.0,"v":17.5},{"t":452.1,"v":16.2},{"t":453.1,"v":17.5},{"t":454.2,"v":16.7},{"t":455.3,"v":18.9},{"t":456.3,"v":20.9},{"t":457.4,"v":23.7},{"t":458.5,"v":22.9},{"t":459.5,"v":25.7},{"t":460.6,"v":28.2},{"t":461.7,"v":27.0},{"t":462.7,"v":27.0},{"t":463.8,"v":27.0},{"t":464.9,"v":26.2},{"t":465.9,"v":22.9},{"t":467.0,"v":21.8},{"t":468.1,"v":20.2},{"t":469.2,"v":19.1},{"t":470.2,"v":16.9},{"t":471.3,"v":16.7},{"t":472.4,"v":14.9},{"t":473.4,"v":16.2},{"t":474.5,"v":17.5},{"t":475.6,"v":16.2},{"t":476.6,"v":18.2},{"t":477.7,"v":20.9},{"t":478.8,"v":22.6},{"t":479.9,"v":24.0},{"t":480.9,"v":25.3},{"t":482.0,"v":28.2},{"t":483.1,"v":27.1},{"t":484.1,"v":27.0},{"t":485.2,"v":26.0},{"t":486.3,"v":24.2},{"t":487.3,"v":21.3},{"t":488.4,"v":20.9},{"t":489.5,"v":20.4},{"t":490.5,"v":20.2},{"t":491.6,"v":19.1},{"t":492.7,"v":20.9},{"t":493.7,"v":20.9},{"t":494.8,"v":21.8},{"t":495.9,"v":22.6},{"t":496.9,"v":25.5},{"t":498.0,"v":26.2},{"t":499.1,"v":24.9},{"t":500.2,"v":28.2},{"t":501.2,"v":24.6},{"t":502.3,"v":25.1},{"t":503.4,"v":24.0},{"t":504.4,"v":22.6},{"t":505.5,"v":21.3},{"t":506.6,"v":19.1},{"t":507.7,"v":17.8},{"t":508.7,"v":17.5},{"t":509.8,"v":16.9},{"t":510.9,"v":17.8},{"t":511.9,"v":18.4},{"t":513.0,"v":19.5},{"t":514.1,"v":21.8},{"t":515.2,"v":20.0},{"t":516.2,"v":24.9},{"t":517.3,"v":27.1},{"t":518.4,"v":28.4},{"t":519.4,"v":29.5},{"t":520.5,"v":30.8},{"t":521.6,"v":29.3},{"t":522.6,"v":27.1},{"t":523.7,"v":23.7},{"t":524.8,"v":19.1},{"t":525.8,"v":19.3},{"t":526.9,"v":18.6},{"t":528.0,"v":17.5},{"t":529.1,"v":15.5},{"t":530.1,"v":16.9},{"t":531.2,"v":16.7},{"t":532.3,"v":16.7},{"t":533.3,"v":17.8},{"t":534.4,"v":19.1},{"t":535.5,"v":19.1},{"t":536.5,"v":20.9},{"t":537.6,"v":27.1},{"t":538.7,"v":24.9},{"t":539.7,"v":27.1},{"t":540.8,"v":29.5},{"t":541.9,"v":29.5},{"t":543.0,"v":28.2},{"t":544.0,"v":25.1},{"t":545.1,"v":23.3},{"t":546.2,"v":20.9},{"t":547.2,"v":20.9},{"t":548.3,"v":18.4},{"t":549.4,"v":18.4},{"t":550.4,"v":17.5},{"t":551.5,"v":16.9},{"t":552.6,"v":17.8},{"t":553.6,"v":18.4},{"t":554.7,"v":18.4},{"t":555.8,"v":19.5},{"t":556.8,"v":20.2},{"t":557.9,"v":22.9},{"t":559.0,"v":22.6},{"t":560.1,"v":24.4},{"t":561.1,"v":25.7},{"t":562.2,"v":28.2},{"t":563.3,"v":27.5},{"t":564.3,"v":28.2},{"t":565.4,"v":25.5},{"t":566.5,"v":24.0},{"t":567.5,"v":20.4},{"t":568.6,"v":19.1},{"t":569.7,"v":17.5},{"t":570.8,"v":17.1},{"t":571.8,"v":17.5},{"t":572.9,"v":16.7},{"t":574.0,"v":16.2},{"t":575.0,"v":18.4},{"t":576.1,"v":20.9},{"t":577.2,"v":19.1},{"t":578.2,"v":20.6},{"t":579.3,"v":21.5},{"t":580.4,"v":27.1},{"t":581.5,"v":23.7},{"t":582.2,"v":23.7},{"t":583.2,"v":28.2},{"t":584.3,"v":28.2},{"t":585.4,"v":26.2},{"t":586.5,"v":24.9},{"t":587.2,"v":25.9},{"t":588.2,"v":22.6},{"t":589.3,"v":21.3},{"t":590.4,"v":21.8},{"t":591.4,"v":18.6},{"t":592.5,"v":18.2},{"t":593.6,"v":17.5},{"t":594.7,"v":17.8},{"t":595.7,"v":16.9},{"t":596.8,"v":18.2},{"t":597.9,"v":18.2},{"t":598.9,"v":17.8},{"t":600,"v":18.4}
],
"hal": [
{"t":0,"v":4.8},{"t":1.4,"v":4.6},{"t":3.2,"v":4.4},{"t":4.3,"v":5.3},{"t":5.3,"v":6.8},{"t":6.4,"v":6.6},{"t":7.1,"v":6.3},{"t":7.8,"v":7.7},{"t":8.9,"v":9.0},{"t":10.0,"v":8.8},{"t":11.1,"v":8.4},{"t":12.1,"v":11.3},{"t":12.8,"v":10.1},{"t":13.9,"v":8.5},{"t":15.0,"v":9.5},{"t":15.7,"v":8.6},{"t":16.8,"v":7.5},{"t":17.8,"v":6.4},{"t":18.9,"v":7.0},{"t":20.0,"v":6.2},{"t":21.0,"v":5.1},{"t":22.1,"v":5.9},{"t":23.2,"v":6.2},{"t":24.2,"v":5.8},{"t":25.0,"v":5.5},{"t":26.0,"v":6.4},{"t":27.1,"v":6.2},{"t":28.2,"v":5.9},{"t":29.2,"v":7.0},{"t":29.9,"v":8.3},{"t":31.0,"v":7.0},{"t":32.1,"v":7.7},{"t":32.8,"v":9.5},{"t":33.9,"v":9.0},{"t":34.9,"v":8.6},{"t":36.0,"v":9.3},{"t":37.1,"v":9.5},{"t":38.1,"v":8.4},{"t":38.9,"v":7.5},{"t":39.9,"v":9.3},{"t":41.0,"v":7.5},{"t":42.1,"v":5.9},{"t":43.1,"v":6.6},{"t":44.2,"v":7.0},{"t":45.3,"v":5.7},{"t":46.3,"v":6.2},{"t":47.1,"v":6.7},{"t":48.1,"v":6.4},{"t":49.2,"v":5.5},{"t":50.3,"v":6.2},{"t":51.3,"v":7.0},{"t":52.4,"v":6.7},{"t":53.5,"v":6.4},{"t":54.5,"v":8.6},{"t":55.6,"v":8.8},{"t":56.7,"v":8.9},{"t":57.8,"v":10.4},{"t":58.8,"v":10.1},{"t":60.2,"v":9.8},{"t":61.3,"v":9.5},{"t":62.4,"v":7.9},{"t":63.5,"v":7.0},{"t":64.5,"v":7.3},{"t":65.6,"v":6.4},{"t":66.7,"v":5.5},{"t":67.7,"v":6.2},{"t":68.8,"v":5.5},{"t":69.9,"v":5.2},{"t":70.9,"v":5.2},{"t":72.0,"v":5.7},{"t":73.1,"v":5.5},{"t":74.2,"v":5.8},{"t":75.2,"v":6.8},{"t":76.3,"v":7.5},{"t":77.4,"v":7.1},{"t":78.4,"v":7.9},{"t":79.5,"v":8.9},{"t":80.6,"v":9.0},{"t":81.6,"v":8.8},{"t":82.7,"v":9.5},{"t":83.8,"v":7.9},{"t":84.8,"v":7.9},{"t":85.9,"v":7.5},{"t":87.0,"v":7.0},{"t":88.1,"v":6.8},{"t":89.1,"v":6.4},{"t":90.2,"v":6.2},{"t":91.3,"v":5.7},{"t":92.0,"v":6.4},{"t":93.0,"v":6.2},{"t":94.1,"v":6.4},{"t":95.2,"v":6.2},{"t":95.9,"v":7.6},{"t":97.0,"v":7.0},{"t":98.0,"v":7.5},{"t":99.1,"v":8.6},{"t":100.2,"v":8.8},{"t":101.2,"v":9.0},{"t":102.0,"v":8.4},{"t":103.0,"v":10.4},{"t":104.1,"v":8.4},{"t":105.2,"v":7.9},{"t":106.2,"v":7.1},{"t":107.3,"v":6.6},{"t":108.4,"v":6.2},{"t":109.1,"v":5.3},{"t":110.2,"v":5.7},{"t":111.2,"v":5.1},{"t":112.3,"v":4.9},{"t":113.4,"v":5.1},{"t":114.4,"v":4.9},{"t":115.5,"v":5.3},{"t":116.6,"v":5.9},{"t":117.6,"v":5.7},{"t":118.7,"v":6.4},{"t":119.8,"v":6.8},{"t":120.9,"v":7.3},{"t":121.9,"v":7.6},{"t":123.0,"v":7.6},{"t":124.1,"v":10.8},{"t":125.1,"v":10.1},{"t":126.2,"v":9.3},{"t":127.3,"v":9.5},{"t":128.3,"v":8.4},{"t":129.4,"v":7.5},{"t":130.5,"v":6.8},{"t":131.6,"v":6.6},{"t":132.6,"v":5.5},{"t":133.7,"v":5.5},{"t":134.8,"v":5.3},{"t":135.8,"v":5.5},{"t":136.9,"v":5.8},{"t":138.0,"v":6.2},{"t":139.0,"v":5.9},{"t":140.1,"v":6.6},{"t":141.2,"v":6.4},{"t":142.2,"v":6.3},{"t":143.3,"v":6.8},{"t":144.0,"v":8.6},{"t":145.1,"v":9.3},{"t":146.2,"v":8.4},{"t":147.2,"v":7.9},{"t":148.3,"v":8.7},{"t":149.4,"v":7.7},{"t":150.4,"v":6.6},{"t":151.2,"v":7.0},{"t":152.2,"v":6.2},{"t":153.3,"v":5.2},{"t":154.4,"v":5.3},{"t":155.4,"v":5.7},{"t":156.1,"v":5.5},{"t":157.2,"v":4.5},{"t":158.3,"v":5.3},{"t":159.4,"v":5.7},{"t":160.4,"v":5.9},{"t":161.5,"v":6.6},{"t":162.6,"v":7.9},{"t":163.6,"v":7.7},{"t":164.7,"v":8.3},{"t":165.8,"v":9.9},{"t":166.8,"v":9.6},{"t":167.9,"v":9.3},{"t":169.0,"v":9.0},{"t":170.1,"v":7.9},{"t":171.1,"v":7.0},{"t":172.2,"v":6.2},{"t":173.3,"v":6.1},{"t":174.3,"v":5.1},{"t":175.4,"v":4.4},{"t":176.5,"v":4.8},{"t":177.5,"v":4.2},{"t":178.6,"v":5.1},{"t":179.7,"v":5.5},{"t":180.7,"v":6.2},{"t":181.8,"v":5.3},{"t":182.9,"v":6.6},{"t":184.0,"v":6.8},{"t":185.0,"v":8.0},{"t":186.1,"v":8.9},{"t":187.2,"v":9.6},{"t":188.2,"v":9.5},{"t":189.3,"v":9.9},{"t":190.4,"v":9.0},{"t":191.4,"v":7.5},{"t":192.5,"v":6.8},{"t":193.6,"v":6.4},{"t":194.7,"v":5.7},{"t":195.7,"v":4.6},{"t":196.8,"v":4.6},{"t":197.9,"v":4.4},{"t":198.9,"v":4.2},{"t":200.0,"v":4.4},{"t":201.1,"v":4.5},
{"t":202.1,"v":4.6},{"t":203.2,"v":4.4},{"t":204.3,"v":5.3},{"t":205.3,"v":6.2},{"t":206.4,"v":5.9},{"t":207.5,"v":7.9},{"t":208.6,"v":8.2},{"t":209.6,"v":8.8},{"t":210.7,"v":9.3},{"t":211.7,"v":8.8},{"t":212.8,"v":9.2},{"t":213.9,"v":7.9},{"t":215.0,"v":7.3},{"t":216.0,"v":6.8},{"t":217.1,"v":6.4},{"t":218.2,"v":5.9},{"t":219.3,"v":5.5},{"t":220.3,"v":4.8},{"t":221.4,"v":5.1},{"t":222.1,"v":5.6},{"t":223.2,"v":4.9},{"t":224.2,"v":5.1},{"t":225.3,"v":5.5},{"t":226.4,"v":6.7},{"t":227.1,"v":6.3},{"t":228.2,"v":7.3},{"t":229.2,"v":7.7},{"t":230.3,"v":7.7},{"t":231.4,"v":7.7},{"t":232.4,"v":8.2},{"t":233.2,"v":9.5},{"t":233.9,"v":7.5},{"t":235.0,"v":7.7},{"t":236.0,"v":7.3},{"t":237.1,"v":6.6},{"t":238.2,"v":6.5},{"t":239.2,"v":6.2},{"t":240.3,"v":5.7},{"t":241.4,"v":5.3},{"t":242.4,"v":6.1},{"t":243.5,"v":5.7},{"t":244.6,"v":5.9},{"t":245.6,"v":7.3},{"t":246.7,"v":7.0},{"t":247.8,"v":7.5},{"t":248.8,"v":8.4},{"t":249.9,"v":9.5},{"t":251.0,"v":9.0},{"t":252.0,"v":9.5},{"t":253.1,"v":8.8},{"t":254.2,"v":8.6},{"t":255.3,"v":7.3},{"t":256.3,"v":6.8},{"t":257.4,"v":6.6},{"t":258.5,"v":4.8},{"t":259.6,"v":4.6},{"t":260.6,"v":4.6},{"t":261.7,"v":4.8},{"t":262.4,"v":4.3},{"t":263.1,"v":3.9},{"t":264.2,"v":4.4},{"t":265.2,"v":4.8},{"t":266.3,"v":5.3},{"t":267.4,"v":5.5},{"t":268.4,"v":5.9},{"t":269.2,"v":7.0},{"t":269.9,"v":8.8},{"t":270.6,"v":7.7},{"t":271.7,"v":8.4},{"t":272.7,"v":9.7},{"t":273.8,"v":10.8},{"t":274.9,"v":9.9},{"t":276.0,"v":8.8},{"t":277.0,"v":8.7},{"t":278.1,"v":7.3},{"t":279.1,"v":6.4},{"t":280.2,"v":5.9},{"t":281.3,"v":5.5},{"t":282.0,"v":7.7},{"t":283.1,"v":5.3},{"t":284.1,"v":4.6},{"t":285.2,"v":4.8},{"t":286.3,"v":5.8},{"t":287.3,"v":4.8},{"t":288.4,"v":5.1},{"t":289.5,"v":5.9},{"t":290.5,"v":5.9},{"t":291.6,"v":5.9},{"t":292.7,"v":8.2},{"t":293.4,"v":7.3},{"t":294.5,"v":8.2},{"t":295.5,"v":8.8},{"t":296.6,"v":9.5},{"t":297.7,"v":9.6},{"t":298.8,"v":9.6},{"t":299.8,"v":8.9},{"t":300.9,"v":8.2},{"t":302.0,"v":7.3},{"t":303.0,"v":7.0},{"t":304.1,"v":7.0},{"t":305.2,"v":6.4},{"t":306.2,"v":6.2},{"t":307.3,"v":7.0},{"t":308.4,"v":5.6},{"t":309.4,"v":5.9},{"t":310.5,"v":6.2},{"t":311.6,"v":6.6},{"t":312.7,"v":6.4},{"t":313.7,"v":6.8},{"t":314.8,"v":7.1},{"t":315.9,"v":7.4},{"t":316.9,"v":7.7},{"t":318.0,"v":8.2},{"t":318.7,"v":8.7},{"t":319.8,"v":8.2},{"t":320.9,"v":8.5},{"t":321.9,"v":8.2},{"t":323.0,"v":7.7},{"t":324.1,"v":7.4},{"t":325.1,"v":6.8},{"t":326.2,"v":6.8},{"t":327.3,"v":5.9},{"t":328.3,"v":5.9},{"t":329.4,"v":5.9},{"t":330.5,"v":5.9},{"t":331.6,"v":6.1},{"t":332.6,"v":6.4},{"t":333.7,"v":6.8},{"t":334.8,"v":7.3},{"t":335.8,"v":8.2},{"t":336.9,"v":8.7},{"t":338.0,"v":8.9},{"t":339.0,"v":9.9},{"t":340.1,"v":9.9},{"t":341.2,"v":8.2},{"t":342.2,"v":8.5},{"t":343.3,"v":7.3},{"t":344.4,"v":6.8},{"t":345.5,"v":5.9},{"t":346.5,"v":5.5},{"t":347.6,"v":5.3},{"t":348.7,"v":5.5},{"t":349.7,"v":5.3},{"t":350.8,"v":4.9},{"t":351.9,"v":5.3},{"t":352.9,"v":5.7},{"t":354.0,"v":6.2},{"t":355.1,"v":6.6},{"t":356.1,"v":7.0},{"t":357.2,"v":8.4},{"t":358.3,"v":9.5},{"t":359.4,"v":9.6},{"t":360.4,"v":9.6},{"t":361.5,"v":9.6},{"t":362.6,"v":8.8},{"t":363.6,"v":7.5},{"t":364.7,"v":6.4},{"t":365.8,"v":5.9},{"t":366.8,"v":5.9},{"t":367.9,"v":5.5},{"t":369.0,"v":5.4},{"t":370.1,"v":4.9},{"t":371.1,"v":5.3},{"t":372.2,"v":5.3},{"t":373.3,"v":5.5},{"t":374.3,"v":5.9},{"t":375.4,"v":6.6},{"t":376.5,"v":7.0},{"t":377.5,"v":7.7},{"t":378.6,"v":8.2},{"t":379.7,"v":8.7},{"t":380.7,"v":9.3},{"t":381.8,"v":8.8},{"t":382.5,"v":9.3},{"t":383.6,"v":7.3},{"t":384.7,"v":7.5},{"t":385.7,"v":6.6},{"t":386.8,"v":6.4},{"t":387.9,"v":6.2},{"t":389.0,"v":6.4},{"t":390.0,"v":5.9},{"t":391.1,"v":5.5},{"t":392.2,"v":6.2},
{"t":393.6,"v":6.4},{"t":394.6,"v":7.5},{"t":395.7,"v":8.4},{"t":396.8,"v":8.8},{"t":397.9,"v":8.2},{"t":398.9,"v":9.9},{"t":400.0,"v":8.9},{"t":401.1,"v":7.7},{"t":402.2,"v":7.6},{"t":403.2,"v":6.8},{"t":404.3,"v":6.2},{"t":405.4,"v":5.3},{"t":406.4,"v":5.5},{"t":407.5,"v":4.6},{"t":408.6,"v":4.2},{"t":409.6,"v":4.5},{"t":410.7,"v":4.2},{"t":411.8,"v":4.5},{"t":412.8,"v":5.1},{"t":413.9,"v":4.6},{"t":415.0,"v":5.7},{"t":416.0,"v":6.8},{"t":417.1,"v":7.6},{"t":418.2,"v":7.9},{"t":419.3,"v":8.4},{"t":420.3,"v":8.9},{"t":421.4,"v":9.2},{"t":422.5,"v":8.7},{"t":423.5,"v":8.7},{"t":424.6,"v":7.0},{"t":425.7,"v":6.8},{"t":426.7,"v":6.8},{"t":427.8,"v":5.7},{"t":428.9,"v":5.5},{"t":429.9,"v":5.7},{"t":431.0,"v":5.5},{"t":432.1,"v":4.8},{"t":433.2,"v":5.7},{"t":434.2,"v":5.5},{"t":435.3,"v":5.6},{"t":436.4,"v":5.9},{"t":437.4,"v":7.7},{"t":438.1,"v":7.0},{"t":439.2,"v":6.2},{"t":440.3,"v":8.2},{"t":441.0,"v":9.0},{"t":442.1,"v":7.5},{"t":442.8,"v":7.9},{"t":443.8,"v":8.9},{"t":444.9,"v":9.5},{"t":446.0,"v":6.4},{"t":447.1,"v":6.6},{"t":448.1,"v":6.6},{"t":448.8,"v":6.8},{"t":449.9,"v":5.5},{"t":451.0,"v":5.7},{"t":452.1,"v":5.6},{"t":453.1,"v":5.7},{"t":454.2,"v":5.8},{"t":455.3,"v":6.4},{"t":456.3,"v":7.1},{"t":457.4,"v":7.5},{"t":458.5,"v":7.0},{"t":459.5,"v":8.4},{"t":460.6,"v":9.5},{"t":461.7,"v":8.6},{"t":462.7,"v":8.4},{"t":463.8,"v":8.0},{"t":464.9,"v":7.7},{"t":465.9,"v":7.0},{"t":467.0,"v":6.4},{"t":468.1,"v":5.9},{"t":469.2,"v":5.7},{"t":470.2,"v":5.6},{"t":471.3,"v":5.5},{"t":472.4,"v":5.4},{"t":473.4,"v":5.7},{"t":474.5,"v":5.3},{"t":475.6,"v":5.5},{"t":476.6,"v":6.4},{"t":477.7,"v":7.3},{"t":478.8,"v":7.7},{"t":479.9,"v":7.9},{"t":480.9,"v":8.8},{"t":482.0,"v":8.7},{"t":483.1,"v":8.4},{"t":484.1,"v":8.4},{"t":485.2,"v":8.2},{"t":486.3,"v":7.5},{"t":487.3,"v":7.0},{"t":488.4,"v":7.3},{"t":489.5,"v":6.4},{"t":490.5,"v":6.6},{"t":491.6,"v":6.6},{"t":492.7,"v":6.8},{"t":493.7,"v":6.5},{"t":494.8,"v":7.0},{"t":495.9,"v":7.9},{"t":496.9,"v":8.8},{"t":498.0,"v":8.2},{"t":499.1,"v":7.7},{"t":500.2,"v":8.6},{"t":501.2,"v":7.7},{"t":502.3,"v":7.7},{"t":503.4,"v":7.5},{"t":504.4,"v":6.8},{"t":505.5,"v":6.4},{"t":506.6,"v":5.9},{"t":507.7,"v":5.5},{"t":508.7,"v":6.4},{"t":509.8,"v":5.5},{"t":510.9,"v":5.7},{"t":511.9,"v":6.8},{"t":513.0,"v":5.5},{"t":514.1,"v":7.5},{"t":515.2,"v":6.8},{"t":516.2,"v":8.2},{"t":517.3,"v":8.6},{"t":518.4,"v":9.0},{"t":519.4,"v":9.7},{"t":520.5,"v":9.9},{"t":521.6,"v":10.4},{"t":522.6,"v":8.6},{"t":523.7,"v":7.9},{"t":524.8,"v":6.4},{"t":525.8,"v":6.2},{"t":526.9,"v":6.2},{"t":528.0,"v":5.7},{"t":529.1,"v":5.3},{"t":530.1,"v":5.7},{"t":531.2,"v":5.5},{"t":532.3,"v":5.5},{"t":533.3,"v":5.7},{"t":534.4,"v":6.4},{"t":535.5,"v":6.6},{"t":536.5,"v":7.5},{"t":537.6,"v":8.4},{"t":538.7,"v":9.5},{"t":539.7,"v":9.4},{"t":540.8,"v":9.3},{"t":541.9,"v":9.6},{"t":543.0,"v":9.0},{"t":544.0,"v":8.4},{"t":545.1,"v":7.9},{"t":546.2,"v":7.0},{"t":547.2,"v":6.8},{"t":548.3,"v":6.2},{"t":549.4,"v":5.7},{"t":550.4,"v":5.7},{"t":551.5,"v":5.7},{"t":552.6,"v":5.9},{"t":553.6,"v":6.2},{"t":554.7,"v":6.4},{"t":555.8,"v":6.8},{"t":556.8,"v":7.1},{"t":557.9,"v":7.7},{"t":559.0,"v":7.9},{"t":560.1,"v":8.8},{"t":561.1,"v":9.5},{"t":562.2,"v":9.3},{"t":563.3,"v":9.0},{"t":564.3,"v":8.8},{"t":565.4,"v":8.4},{"t":566.5,"v":7.7},{"t":567.5,"v":7.0},{"t":568.6,"v":6.4},{"t":569.7,"v":5.9},{"t":570.8,"v":5.5},{"t":571.8,"v":7.0},{"t":572.9,"v":5.7},{"t":574.0,"v":5.5},{"t":575.0,"v":7.0},{"t":576.1,"v":6.6},{"t":577.2,"v":7.0},{"t":578.2,"v":7.5},{"t":579.3,"v":8.6},{"t":580.4,"v":8.2},{"t":581.4,"v":8.7},{"t":582.5,"v":9.3},{"t":583.6,"v":9.6},{"t":584.7,"v":8.9},{"t":585.7,"v":8.5},{"t":586.8,"v":8.2},{"t":587.9,"v":7.0},{"t":588.9,"v":7.0},{"t":590.0,"v":6.4},{"t":591.1,"v":6.2},{"t":592.2,"v":6.1},{"t":593.2,"v":6.1},{"t":594.3,"v":5.9},{"t":595.4,"v":5.7},{"t":596.4,"v":5.9},{"t":597.5,"v":6.2},{"t":598.6,"v":5.9},{"t":600,"v":6.1}
]
},
"vconcat": [
{
 "width": 1122, "height": 210,
 "data": {"name": "sp"},
 "layer": [
  {"mark": {"type": "line", "color": "black", "strokeWidth": 1, "clip": true},
   "encoding": {
    "x": {"field": "t", "type": "quantitative", "scale": {"domain": [0, 600], "nice": false, "zero": false},
      "axis": {"orient": "bottom", "values": [0,120,240,360,480,600], "tickSize": -5, "labels": false, "title": null}},
    "y": {"field": "v", "type": "quantitative", "scale": {"domain": [0, 28], "nice": false, "zero": false},
      "axis": {"orient": "left", "values": [0,7,14,21,28], "tickSize": -22, "labelFlush": true, "labelFontSize": 22,
        "labelExpr": "datum.value == 0 ? '0' : datum.value < 10 ? format(datum.value, '.1f') + 'x10' : format(datum.value / 10, '.1f') + 'x10'",
        "labelPadding": {"condition": {"test": "datum.value == 0", "value": 28}, "value": 55},
        "title": "South Pole", "titleFontSize": 24, "titleX": -120, "titleY": 94, "titleBaseline": "middle"}}
   }},
  {"mark": {"type": "line", "strokeOpacity": 0},
   "encoding": {
    "x": {"field": "t", "type": "quantitative", "scale": {"domain": [0, 600], "nice": false, "zero": false},
      "axis": {"orient": "top", "values": [0,120,240,360,480,600], "tickSize": -5, "labels": false, "title": null}},
    "y": {"field": "v", "type": "quantitative", "scale": {"domain": [0, 28], "nice": false, "zero": false},
      "axis": {"orient": "left", "values": [0,7,14,21,28], "ticks": false, "labelFlush": true, "labelFontSize": 15, "labelPadding": 9, "labelOffset": -8,
        "labelExpr": "datum.value == 0 ? '' : datum.value < 10 ? '- 5' : '- 4'", "title": null}}
   }},
  {"mark": {"type": "line", "strokeOpacity": 0},
   "encoding": {
    "x": {"field": "t", "type": "quantitative", "scale": {"domain": [0, 600], "nice": false, "zero": false},
      "axis": {"orient": "bottom", "values": [24,48,72,96,144,168,192,216,264,288,312,336,384,408,432,456,504,528,552,576], "tickSize": -2.5, "labels": false, "title": null}},
    "y": {"field": "v", "type": "quantitative", "scale": {"domain": [0, 28], "nice": false, "zero": false},
      "axis": {"orient": "right", "values": [0,7,14,21,28], "tickSize": -22, "labels": false, "title": null}}
   }},
  {"mark": {"type": "line", "strokeOpacity": 0},
   "encoding": {
    "x": {"field": "t", "type": "quantitative", "scale": {"domain": [0, 600], "nice": false, "zero": false},
      "axis": {"orient": "top", "values": [24,48,72,96,144,168,192,216,264,288,312,336,384,408,432,456,504,528,552,576], "tickSize": -2.5, "labels": false, "title": null}},
    "y": {"field": "v", "type": "quantitative", "scale": {"domain": [0, 28], "nice": false, "zero": false}, "axis": null}
   }}
 ],
 "resolve": {"axis": {"x": "independent", "y": "independent"}}
},
{
 "width": 1122, "height": 210,
 "data": {"name": "a84"},
 "layer": [
  {"mark": {"type": "line", "color": "black", "strokeWidth": 1, "clip": true},
   "encoding": {
    "x": {"field": "t", "type": "quantitative", "scale": {"domain": [0, 600], "nice": false, "zero": false},
      "axis": {"orient": "bottom", "values": [0,120,240,360,480,600], "tickSize": -5, "labels": false, "title": null}},
    "y": {"field": "v", "type": "quantitative", "scale": {"domain": [0, 28], "nice": false, "zero": false},
      "axis": {"orient": "left", "values": [0,7,14,21,28], "tickSize": -22, "labelFlush": true, "labelFontSize": 22,
        "labelExpr": "datum.value == 0 ? '0' : datum.value < 10 ? format(datum.value, '.1f') + 'x10' : format(datum.value / 10, '.1f') + 'x10'",
        "labelPadding": {"condition": {"test": "datum.value == 0", "value": 28}, "value": 55},
        "title": "AGO A84", "titleFontSize": 24, "titleX": -120, "titleY": 104, "titleBaseline": "middle"}}
   }},
  {"mark": {"type": "line", "strokeOpacity": 0},
   "encoding": {
    "x": {"field": "t", "type": "quantitative", "scale": {"domain": [0, 600], "nice": false, "zero": false},
      "axis": {"orient": "top", "values": [0,120,240,360,480,600], "tickSize": -5, "labels": false, "title": null}},
    "y": {"field": "v", "type": "quantitative", "scale": {"domain": [0, 28], "nice": false, "zero": false},
      "axis": {"orient": "left", "values": [0,7,14,21,28], "ticks": false, "labelFlush": true, "labelFontSize": 15, "labelPadding": 9, "labelOffset": -8,
        "labelExpr": "datum.value == 0 ? '' : datum.value < 10 ? '- 5' : '- 4'", "title": null}}
   }},
  {"mark": {"type": "line", "strokeOpacity": 0},
   "encoding": {
    "x": {"field": "t", "type": "quantitative", "scale": {"domain": [0, 600], "nice": false, "zero": false},
      "axis": {"orient": "bottom", "values": [24,48,72,96,144,168,192,216,264,288,312,336,384,408,432,456,504,528,552,576], "tickSize": -2.5, "labels": false, "title": null}},
    "y": {"field": "v", "type": "quantitative", "scale": {"domain": [0, 28], "nice": false, "zero": false},
      "axis": {"orient": "right", "values": [0,7,14,21,28], "tickSize": -22, "labels": false, "title": null}}
   }},
  {"mark": {"type": "line", "strokeOpacity": 0},
   "encoding": {
    "x": {"field": "t", "type": "quantitative", "scale": {"domain": [0, 600], "nice": false, "zero": false},
      "axis": {"orient": "top", "values": [24,48,72,96,144,168,192,216,264,288,312,336,384,408,432,456,504,528,552,576], "tickSize": -2.5, "labels": false, "title": null}},
    "y": {"field": "v", "type": "quantitative", "scale": {"domain": [0, 28], "nice": false, "zero": false}, "axis": null}
   }}
 ],
 "resolve": {"axis": {"x": "independent", "y": "independent"}}
},
{
 "width": 1122, "height": 210,
 "data": {"name": "a80"},
 "layer": [
  {"mark": {"type": "line", "color": "black", "strokeWidth": 1, "clip": true},
   "encoding": {
    "x": {"field": "t", "type": "quantitative", "scale": {"domain": [0, 600], "nice": false, "zero": false},
      "axis": {"orient": "bottom", "values": [0,120,240,360,480,600], "tickSize": -5, "labels": false, "title": null}},
    "y": {"field": "v", "type": "quantitative", "scale": {"domain": [12, 40], "nice": false, "zero": false},
      "axis": {"orient": "left", "values": [12,19,26,33,40], "tickSize": -22, "labelFlush": true, "labelFontSize": 22,
        "labelExpr": "format(datum.value / 10, '.1f') + 'x10'", "labelPadding": 55,
        "title": "AGO A80", "titleFontSize": 24, "titleX": -120, "titleY": 106, "titleBaseline": "middle"}}
   }},
  {"mark": {"type": "line", "strokeOpacity": 0},
   "encoding": {
    "x": {"field": "t", "type": "quantitative", "scale": {"domain": [0, 600], "nice": false, "zero": false},
      "axis": {"orient": "top", "values": [0,120,240,360,480,600], "tickSize": -5, "labels": false, "title": null}},
    "y": {"field": "v", "type": "quantitative", "scale": {"domain": [12, 40], "nice": false, "zero": false},
      "axis": {"orient": "left", "values": [12,19,26,33,40], "ticks": false, "labelFlush": true, "labelFontSize": 15, "labelPadding": 9, "labelOffset": -8,
        "labelExpr": "'- 4'", "title": null}}
   }},
  {"mark": {"type": "line", "strokeOpacity": 0},
   "encoding": {
    "x": {"field": "t", "type": "quantitative", "scale": {"domain": [0, 600], "nice": false, "zero": false},
      "axis": {"orient": "bottom", "values": [24,48,72,96,144,168,192,216,264,288,312,336,384,408,432,456,504,528,552,576], "tickSize": -2.5, "labels": false, "title": null}},
    "y": {"field": "v", "type": "quantitative", "scale": {"domain": [12, 40], "nice": false, "zero": false},
      "axis": {"orient": "right", "values": [12,19,26,33,40], "tickSize": -22, "labels": false, "title": null}}
   }},
  {"mark": {"type": "line", "strokeOpacity": 0},
   "encoding": {
    "x": {"field": "t", "type": "quantitative", "scale": {"domain": [0, 600], "nice": false, "zero": false},
      "axis": {"orient": "top", "values": [24,48,72,96,144,168,192,216,264,288,312,336,384,408,432,456,504,528,552,576], "tickSize": -2.5, "labels": false, "title": null}},
    "y": {"field": "v", "type": "quantitative", "scale": {"domain": [12, 40], "nice": false, "zero": false}, "axis": null}
   }}
 ],
 "resolve": {"axis": {"x": "independent", "y": "independent"}}
},
{
 "width": 1122, "height": 210,
 "data": {"name": "hal"},
 "layer": [
  {"mark": {"type": "line", "color": "black", "strokeWidth": 1, "clip": true},
   "encoding": {
    "x": {"field": "t", "type": "quantitative", "scale": {"domain": [0, 600], "nice": false, "zero": false},
      "axis": {"orient": "bottom", "values": [0,120,240,360,480,600], "tickSize": -5, "labelFontSize": 24, "labelPadding": 8, "labelFlush": false,
        "labelExpr": "'23:' + format(20 + datum.value / 60, '02d')",
        "title": "Universal Time", "titleFontSize": 26, "titleX": 538, "titleY": 38, "titleBaseline": "middle"}},
    "y": {"field": "v", "type": "quantitative", "scale": {"domain": [0, 28], "nice": false, "zero": false},
      "axis": {"orient": "left", "values": [0,7,14,21,28], "tickSize": -22, "labelFlush": true, "labelFontSize": 22,
        "labelExpr": "datum.value == 0 ? '0' : datum.value < 10 ? format(datum.value, '.1f') + 'x10' : format(datum.value / 10, '.1f') + 'x10'",
        "labelPadding": {"condition": {"test": "datum.value == 0", "value": 28}, "value": 55},
        "title": "Halley", "titleFontSize": 24, "titleX": -120, "titleY": 122, "titleBaseline": "middle"}}
   }},
  {"mark": {"type": "line", "strokeOpacity": 0},
   "encoding": {
    "x": {"field": "t", "type": "quantitative", "scale": {"domain": [0, 600], "nice": false, "zero": false},
      "axis": {"orient": "top", "values": [0,120,240,360,480,600], "tickSize": -5, "labels": false, "title": null}},
    "y": {"field": "v", "type": "quantitative", "scale": {"domain": [0, 28], "nice": false, "zero": false},
      "axis": {"orient": "left", "values": [0,7,14,21,28], "ticks": false, "labelFlush": true, "labelFontSize": 15, "labelPadding": 9, "labelOffset": -8,
        "labelExpr": "datum.value == 0 ? '' : datum.value < 10 ? '- 5' : '- 4'", "title": null}}
   }},
  {"mark": {"type": "line", "strokeOpacity": 0},
   "encoding": {
    "x": {"field": "t", "type": "quantitative", "scale": {"domain": [0, 600], "nice": false, "zero": false},
      "axis": {"orient": "bottom", "values": [24,48,72,96,144,168,192,216,264,288,312,336,384,408,432,456,504,528,552,576], "tickSize": -2.5, "labels": false, "title": null}},
    "y": {"field": "v", "type": "quantitative", "scale": {"domain": [0, 28], "nice": false, "zero": false},
      "axis": {"orient": "right", "values": [0,7,14,21,28], "tickSize": -22, "labels": false, "title": null}}
   }},
  {"mark": {"type": "line", "strokeOpacity": 0},
   "encoding": {
    "x": {"field": "t", "type": "quantitative", "scale": {"domain": [0, 600], "nice": false, "zero": false},
      "axis": {"orient": "top", "values": [24,48,72,96,144,168,192,216,264,288,312,336,384,408,432,456,504,528,552,576], "tickSize": -2.5, "labels": false, "title": null}},
    "y": {"field": "v", "type": "quantitative", "scale": {"domain": [0, 28], "nice": false, "zero": false}, "axis": null}
   }}
 ],
 "resolve": {"axis": {"x": "independent", "y": "independent"}}
}
]
}
